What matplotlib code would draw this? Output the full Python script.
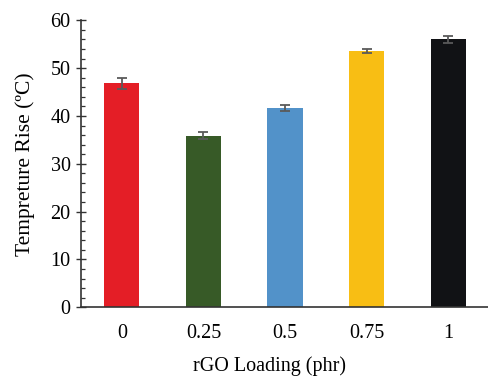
import matplotlib
matplotlib.use("Agg")
import matplotlib.pyplot as plt
from matplotlib.ticker import MultipleLocator

# Temperature rise versus rGO loading
loadings = ["0", "0.25", "0.5", "0.75", "1"]
temp_rise = [46.8, 35.9, 41.7, 53.6, 56.0]
temp_err = [1.2, 0.8, 0.6, 0.5, 0.7]
bar_colors = ["#E41E26", "#375A27", "#5292C9", "#F8BE14", "#111215"]

plt.rcParams["font.family"] = ["Liberation Serif", "DejaVu Serif"]

fig = plt.figure(figsize=(4.89, 3.77), dpi=100)
ax = fig.add_axes([0.1656, 0.185, 0.8344, 0.761])

x = list(range(len(loadings)))
ax.bar(x, temp_rise, width=0.43, color=bar_colors,
       yerr=temp_err, error_kw=dict(ecolor="#5a5a5a", elinewidth=1.3,
                                    capsize=3.5, capthick=1.3))

ax.set_xlim(-0.5, len(loadings) - 0.5)
ax.set_ylim(0, 60)
ax.set_xticks(x)
ax.set_xticklabels(loadings)
ax.yaxis.set_major_locator(MultipleLocator(10))
ax.yaxis.set_minor_locator(MultipleLocator(2))

for side in ("top", "right"):
    ax.spines[side].set_visible(False)
for side in ("left", "bottom"):
    ax.spines[side].set_color("#333333")
    ax.spines[side].set_linewidth(1.2)

ax.tick_params(axis="x", length=0, pad=12, labelsize=14.5)
ax.tick_params(axis="y", which="major", direction="inout", length=7,
               width=1.0, color="#333333", labelsize=14.5, pad=4)
ax.tick_params(axis="y", which="minor", direction="in", length=3,
               width=0.9, color="#333333")

ax.set_xlabel("rGO Loading (phr)", fontsize=14.5)
ax.xaxis.set_label_coords(0.463, -0.172)
ax.set_ylabel("Tempreture Rise (ºC)", fontsize=15.5, labelpad=11)

fig.savefig("out.png", dpi=100)
